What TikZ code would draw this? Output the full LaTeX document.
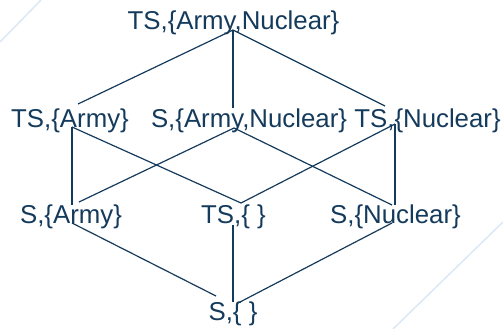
\documentclass[tikz,border=0pt]{standalone}
\usepackage{fontspec}
\setmainfont{Liberation Sans}
\definecolor{ink}{HTML}{143A5C}
\definecolor{haze}{HTML}{DCE8F6}
\begin{document}
\begin{tikzpicture}[x=1pt,y=-1pt,
  lbl/.style={inner sep=0pt, anchor=base, text=ink,
              font=\fontsize{25.8}{30}\selectfont},
  edge/.style={draw=ink, line width=1.2pt},
  deco/.style={draw=haze, line width=1.5pt}]
\useasboundingbox (0,0) rectangle (503,329);

% faint diagonal strokes in the corners
\draw[deco] (0,42) -- (41,0);
\draw[deco] (393,329) -- (503,222);

% lattice elements
\node[lbl] (n1)  at (233.5,30) {TS,\{Army,Nuclear\}};
\node[lbl] (n2a) at (70,127)   {TS,\{Army\}};
\node[lbl] (n2b) at (249,127)  {S,\{Army,Nuclear\}};
\node[lbl] (n2c) at (427.5,127){TS,\{Nuclear\}};
\node[lbl] (n3a) at (71,223)   {S,\{Army\}};
\node[lbl] (n3b) at (233.5,223){TS,\{ \}};
\node[lbl] (n3c) at (395.5,223){S,\{Nuclear\}};
\node[lbl] (n4)  at (233,320)  {S,\{ \}};

% attachment points of the order relations
\coordinate (n1-dn)   at (233,30);
\coordinate (n2a-up)  at (78,104);
\coordinate (n2a-dn)  at (72,127);
\coordinate (n2b-up)  at (233,108);
\coordinate (n2b-dn)  at (234,128);
\coordinate (n2c-up)  at (385,106);
\coordinate (n2c-dn)  at (395,124);
\coordinate (n3a-up)  at (72,205);
\coordinate (n3a-upr) at (79,202);
\coordinate (n3a-dn)  at (72,223);
\coordinate (n3b-up)  at (241,203);
\coordinate (n3b-dn)  at (233,225);
\coordinate (n3c-up)  at (395,205);
\coordinate (n3c-upl) at (392,205);
\coordinate (n3c-dn)  at (392,223);
\coordinate (n4-upl)  at (216,296);
\coordinate (n4-up)   at (233,302);
\coordinate (n4-upr)  at (240,302);

% covering relations
\draw[edge] (n1-dn) -- (n2a-up);
\draw[edge] (n1-dn) -- (n2b-up);
\draw[edge] (n1-dn) -- (n2c-up);
\draw[edge] (n2a-dn) -- (n3a-up);
\draw[edge] (n2a-dn) -- (n3b-up);
\draw[edge] (n2b-dn) -- (n3a-upr);
\draw[edge] (n2b-dn) -- (n3c-upl);
\draw[edge] (n2c-dn) -- (n3b-up);
\draw[edge] (n2c-dn) -- (n3c-up);
\draw[edge] (n3a-dn) -- (n4-upl);
\draw[edge] (n3b-dn) -- (n4-up);
\draw[edge] (n3c-dn) -- (n4-upr);
\end{tikzpicture}
\end{document}
